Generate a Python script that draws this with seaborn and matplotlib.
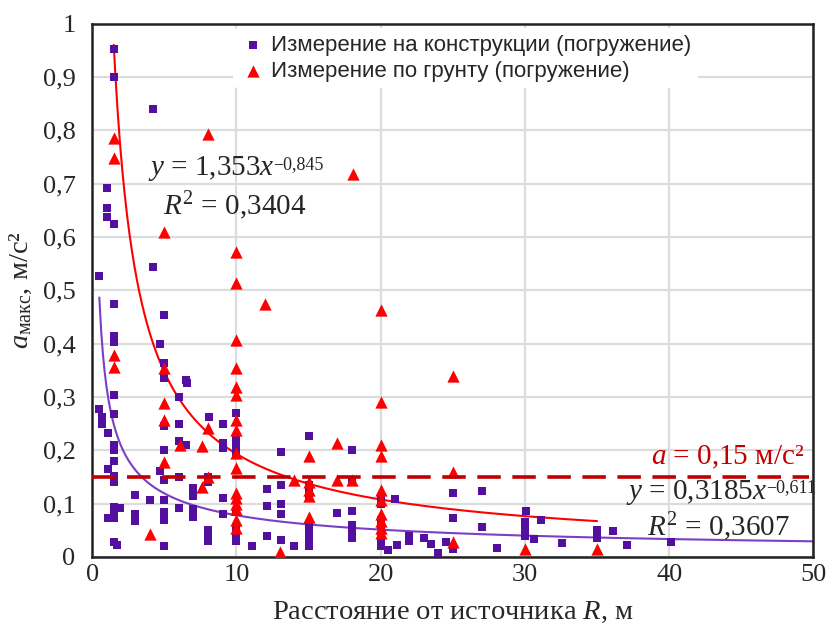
import numpy as np
import pandas as pd
import matplotlib
matplotlib.use("Agg")
import matplotlib.pyplot as plt
import seaborn as sns
from matplotlib.ticker import FuncFormatter, MultipleLocator

sns.set_theme(style="whitegrid")
plt.rcParams["font.family"] = ["Liberation Serif", "DejaVu Serif"]
plt.rcParams["mathtext.fontset"] = "custom"
plt.rcParams["mathtext.rm"] = "Liberation Serif"
plt.rcParams["mathtext.it"] = "Liberation Serif:italic"
plt.rcParams["mathtext.bf"] = "Liberation Serif:bold"

# Measurements on the structure (pile driving)
struct_r = [1.5, 1.5, 4.2, 1.05, 1.05, 1.05, 1.5, 0.45, 4.2,
            1.5, 5.0, 1.5, 1.5, 4.7, 5.0, 5.0, 6.5,
            6.6, 1.5, 6.0, 0.5, 0.7, 1.5, 0.7, 6.0, 5.0, 1.1,
            1.5, 1.5, 5.0, 6.0, 6.5, 1.5, 1.1, 1.5, 1.5, 4.7, 5.0, 6.0,
            7.0, 7.0, 4.0, 3.0, 5.0,
            1.5, 1.9, 1.5, 1.1, 1.5, 6.0, 7.0, 7.0, 3.0, 3.0, 5.0, 5.0,
            1.5, 1.7, 5.0,
            8.1, 9.1, 10, 10, 10, 10, 9.1, 9.1, 13.1, 8.0, 8.0, 12.1, 13.1,
            9.1, 12.1, 13.1, 13.1, 9.1, 10,
            8.0, 8.0, 8.0, 10, 10, 10, 11.1, 12.1, 13.1, 14.0,
            15, 18, 15, 15, 15, 18, 17, 18, 18, 18, 18, 15, 15, 15, 15, 15,
            21, 20, 20, 20, 20, 20, 20, 20, 20.5, 21.1,
            22, 22, 23, 23.5, 24, 24.5, 25, 27, 25, 27, 25, 28.1,
            30.1, 30, 30, 30, 30.6, 31.1, 32.6, 35, 35, 36.1, 37.1, 40.1]
struct_a = [0.953, 0.900, 0.840, 0.692, 0.654, 0.638, 0.625, 0.526, 0.544,
            0.474, 0.453, 0.414, 0.403, 0.399, 0.364, 0.335, 0.331,
            0.326, 0.303, 0.300, 0.277, 0.262, 0.268, 0.250, 0.250, 0.245, 0.232,
            0.210, 0.200, 0.200, 0.217, 0.210, 0.180, 0.165, 0.152, 0.140, 0.161, 0.144, 0.150,
            0.130, 0.115, 0.107, 0.116, 0.107,
            0.094, 0.092, 0.082, 0.073, 0.073, 0.092, 0.090, 0.075, 0.080, 0.068, 0.085, 0.070,
            0.028, 0.023, 0.020,
            0.262, 0.250, 0.270, 0.225, 0.210, 0.195, 0.213, 0.205, 0.197, 0.150, 0.140, 0.127, 0.135,
            0.110, 0.095, 0.100, 0.080, 0.080, 0.085,
            0.050, 0.040, 0.030, 0.050, 0.040, 0.030, 0.020, 0.040, 0.032, 0.020,
            0.227, 0.200, 0.135, 0.120, 0.110, 0.145, 0.082, 0.086, 0.060, 0.045, 0.035,
            0.060, 0.050, 0.040, 0.030, 0.020,
            0.108, 0.110, 0.100, 0.070, 0.060, 0.040, 0.030, 0.020, 0.013, 0.022,
            0.040, 0.030, 0.035, 0.025, 0.008, 0.028, 0.120, 0.123, 0.073, 0.056, 0.015, 0.017,
            0.086, 0.065, 0.050, 0.040, 0.033, 0.069, 0.026, 0.050, 0.035, 0.049, 0.022, 0.027]

# Measurements on the ground (pile driving)
ground_r = [1.5, 1.5, 1.5, 1.5,
            8.0, 18.1, 5.0, 10, 10, 12, 20, 10, 10, 5, 25, 10, 10, 5, 20, 5, 10,
            8, 10, 17, 6.1, 7.6, 20, 10, 15, 20, 5, 10, 25, 8, 14, 17, 18,
            15, 15, 15, 7.6, 20, 20, 10, 10, 10, 10, 10, 10, 15,
            20, 20, 20, 20, 4, 25, 13, 30, 35]
ground_a = [0.785, 0.749, 0.378, 0.356,
            0.794, 0.719, 0.609, 0.571, 0.513, 0.474, 0.463, 0.406, 0.354, 0.355, 0.339,
            0.318, 0.303, 0.288, 0.290, 0.257, 0.257,
            0.241, 0.238, 0.214, 0.210, 0.208, 0.210, 0.195, 0.190, 0.190, 0.178, 0.167,
            0.160, 0.150, 0.144, 0.144, 0.144,
            0.140, 0.125, 0.115, 0.131, 0.125, 0.107, 0.120, 0.110, 0.100, 0.090, 0.070,
            0.055, 0.075,
            0.080, 0.068, 0.055, 0.045, 0.043, 0.028, 0.010, 0.015, 0.015]

label_struct = "Измерение на конструкции (погружение)"
label_ground = "Измерение по грунту (погружение)"

# Power-law trend lines y = k * x^p
ground_k, ground_p, ground_r2 = 1.353, -0.845, 0.3404
struct_k, struct_p, struct_r2 = 0.3185, -0.611, 0.3607
ground_span = (1.5, 35.0)
struct_span = (0.5, 50.0)
threshold = 0.15

purple = "#5310A0"
purple_line = "#7B3FC4"
red = "#FF0000"
dark_red = "#C00000"


def num(v, digits):
    return f"{v:.{digits}f}".replace(".", ",")


df_s = pd.DataFrame({"R": struct_r, "a": struct_a, "group": label_struct})
df_g = pd.DataFrame({"R": ground_r, "a": ground_a, "group": label_ground})

fig, ax = plt.subplots(figsize=(8.3, 6.25), dpi=100)
fig.subplots_adjust(left=0.111, right=0.980, bottom=0.109, top=0.962)

sns.scatterplot(data=df_s, x="R", y="a", marker="s", s=38, color=purple,
                linewidth=0, ax=ax, label=label_struct, zorder=3)
sns.scatterplot(data=df_g, x="R", y="a", marker="^", s=78, color=red,
                linewidth=0, ax=ax, label=label_ground, zorder=4)

xs = np.linspace(*struct_span, 400)
ax.plot(xs, struct_k * xs ** struct_p, color=purple_line, lw=1.5, zorder=2)
xg = np.linspace(*ground_span, 400)
ax.plot(xg, ground_k * xg ** ground_p, color=red, lw=1.5, zorder=2)

ax.plot([0, 49.7], [threshold, threshold], color=dark_red, lw=2.6,
        dashes=(6.5, 3.2), zorder=5)

ax.set_xlim(0, 50)
ax.set_ylim(0, 1)
ax.xaxis.set_major_locator(MultipleLocator(10))
ax.yaxis.set_major_locator(MultipleLocator(0.1))


def comma_fmt(v, pos):
    if abs(v - round(v)) < 1e-9:
        return f"{int(round(v))}"
    return num(v, 1)


ax.yaxis.set_major_formatter(FuncFormatter(comma_fmt))
ax.tick_params(axis="both", labelsize=19, length=0)
ax.tick_params(axis="y", pad=12)
ax.tick_params(axis="x", pad=5)
ax.grid(True, color="#DCDCDC", lw=1.6)
for sp in ax.spines.values():
    sp.set_color("#222222")
    sp.set_linewidth(1.8)

ax.set_xlabel(r"Расстояние от источника $R$, м", fontsize=20.5, labelpad=10)
ax.set_ylabel(r"$a_{\mathrm{макс}}$, м/с²", fontsize=20.5, labelpad=6)

leg = ax.legend(loc="upper left", bbox_to_anchor=(0.18, 1.012), frameon=True,
                facecolor="white", edgecolor="none", framealpha=1,
                prop={"family": "Liberation Sans", "size": 16},
                handletextpad=0.2, labelspacing=0.2, borderpad=0.3,
                handlelength=1.2)
leg.set_zorder(6)


def equation(x, y, k, p, ha):
    main = ax.text(x, y, r"$y$ = " + num(k, len(str(k).split(".")[1])) + r"$x$",
                   fontsize=21, va="center", ha=ha, zorder=7)
    ax.annotate("−" + num(abs(p), 3), xy=(1, 1), xycoords=main,
                xytext=(-1, -1), textcoords="offset points",
                fontsize=13, va="top", ha="left", zorder=7)
    return main


equation(3.9, 0.728, ground_k, ground_p, "left")
ax.text(4.9, 0.659, r"$R^2$ = " + num(ground_r2, 4),
        fontsize=21, va="center", ha="left", zorder=7)

ax.text(49.4, 0.186, r"$a$ = " + num(threshold, 2) + " м/с²", color=dark_red,
        fontsize=21, va="center", ha="right", zorder=7)
equation(46.8, 0.121, struct_k, struct_p, "right")
ax.text(48.4, 0.056, r"$R^2$ = " + num(struct_r2, 4),
        fontsize=21, va="center", ha="right", zorder=7)

fig.savefig("out.png", dpi=100)
